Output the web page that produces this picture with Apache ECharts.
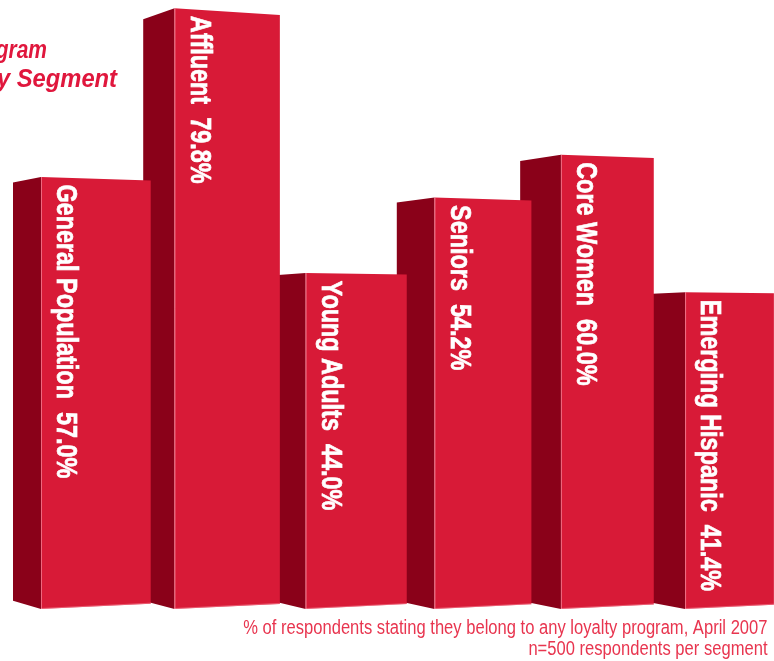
<!DOCTYPE html>
<html>
<head>
<meta charset="utf-8">
<title>Loyalty program membership by segment</title>
<script src="https://cdn.jsdelivr.net/npm/echarts@6/dist/echarts.min.js"></script>
<style>
  html, body { margin: 0; padding: 0; background: #ffffff; }
  #chart { width: 774px; height: 661px; }
</style>
</head>
<body>
<div id="chart"></div>
<script>
// Segments and share of respondents belonging to any loyalty program (%)
const segments = ['General Population', 'Affluent', 'Young Adults', 'Seniors', 'Core Women', 'Emerging Hispanic'];
const memberShare = [57.0, 79.8, 44.0, 54.2, 60.0, 41.4];
const titleLines = ['Program', 'by Segment'];
const footnoteLines = [
  '% of respondents stating they belong to any loyalty program, April 2007',
  'n=500 respondents per segment'
];

// Block styling
const FRONT = '#D81A37';
const SIDE = '#8A0119';
const FONT = '"Liberation Sans", Arial, "Roboto", sans-serif';
const LABEL_SQUEEZE = 0.78;  // horizontal squeeze giving a condensed face
const FLOOR = -1.42;         // blocks stand a little below the zero line
const EYE_LEVEL = 33.6;      // horizon height used for the perspective slant

function renderBlock(params, api) {
  const n = segments.length;
  const i = api.value(0);
  const v = api.value(1);
  const top = api.coord([i, v]);
  const base = api.coord([i, FLOOR]);
  const yh = api.coord([0, EYE_LEVEL])[1];
  const u0 = api.coord([0, 0])[0];
  const uN = api.coord([n - 1, 0])[0];
  // blocks crowd together slightly toward the right
  const u = top[0];
  const cx = u + 7.155e-5 * (u - u0) * (uN - u);
  const w = 109.7 - 0.033 * (cx - u0);
  const depth = 28 + 0.025 * (cx - u0);
  const xL = cx - w / 2;
  const xR = cx + w / 2;
  const yT = top[1];
  const yB = base[1];
  const kR = 1 - 0.000187 * w;
  const kS = 0.968;
  const yTR = yh + (yT - yh) * kR;
  const yBR = yh + (yB - yh) * kR;
  const xBack = xL - depth;
  const yTb = yh + (yT - yh) * kS;
  const yBb = yh + (yB - yh) * kS;
  const zb = (n - i) * 10;
  return {
    type: 'group',
    children: [
      {
        type: 'polygon', z2: zb,
        shape: { points: [[xBack, yTb], [xL, yT], [xL, yB], [xBack, yBb]] },
        style: { fill: SIDE }
      },
      {
        type: 'polygon', z2: zb + 1,
        shape: { points: [[xL, yT], [xR, yTR], [xR, yBR], [xL, yB]] },
        style: { fill: FRONT }
      },
      {
        type: 'line', z2: zb + 2,
        shape: { x1: xL + 0.5, y1: yT, x2: xL + 0.5, y2: yB },
        style: { stroke: 'rgba(255,170,185,0.55)', lineWidth: 1 }
      },
      {
        type: 'line', z2: zb + 2,
        shape: { x1: xL, y1: yB - 0.5, x2: xR, y2: yBR - 0.5 },
        style: { stroke: 'rgba(255,170,185,0.45)', lineWidth: 1 }
      },
      {
        type: 'text', z2: zb + 3,
        x: xL + 24.5, y: yT + 7.5, rotation: -Math.PI / 2, scaleX: LABEL_SQUEEZE,
        style: {
          text: segments[i] + '  ' + v.toFixed(1) + '%',
          fill: '#ffffff',
          stroke: '#ffffff', lineWidth: 0.7,
          fontSize: 30, fontWeight: 'bold', fontFamily: FONT,
          align: 'left', verticalAlign: 'middle'
        }
      }
    ]
  };
}

const chart = echarts.init(document.getElementById('chart'), null, { renderer: 'canvas' });

chart.setOption({
  backgroundColor: '#ffffff',
  animation: false,
  grid: { left: 95.85, width: 633.65, top: 6.8, bottom: 62.5 },
  xAxis: { type: 'category', data: segments, show: false, boundaryGap: false },
  yAxis: { type: 'value', min: 0, max: 80, interval: 10, show: false },
  series: [{
    type: 'custom',
    coordinateSystem: 'cartesian2d',
    silent: true,
    clip: false,
    encode: { x: 0, y: 1 },
    data: memberShare.map((v, i) => [i, v]).reverse(),
    renderItem: renderBlock
  }],
  graphic: [
    {
      type: 'text', x: 47, y: 51.5, z: 10, scaleX: 0.84,
      style: {
        text: titleLines[0], fill: '#E0173D',
        font: 'italic bold 25px ' + FONT,
        align: 'right', verticalAlign: 'middle'
      }
    },
    {
      type: 'text', x: 117, y: 79.8, z: 10, scaleX: 0.95,
      style: {
        text: titleLines[1], fill: '#E0173D',
        font: 'italic bold 25px ' + FONT,
        align: 'right', verticalAlign: 'middle'
      }
    },
    {
      type: 'text', x: 767.5, y: 628.5, z: 10, scaleX: 0.85,
      style: {
        text: footnoteLines[0], fill: '#E8354F',
        font: '19.5px ' + FONT,
        align: 'right', verticalAlign: 'middle'
      }
    },
    {
      type: 'text', x: 767.5, y: 650, z: 10, scaleX: 0.85,
      style: {
        text: footnoteLines[1], fill: '#E8354F',
        font: '19.5px ' + FONT,
        align: 'right', verticalAlign: 'middle'
      }
    }
  ]
});
</script>
</body>
</html>
